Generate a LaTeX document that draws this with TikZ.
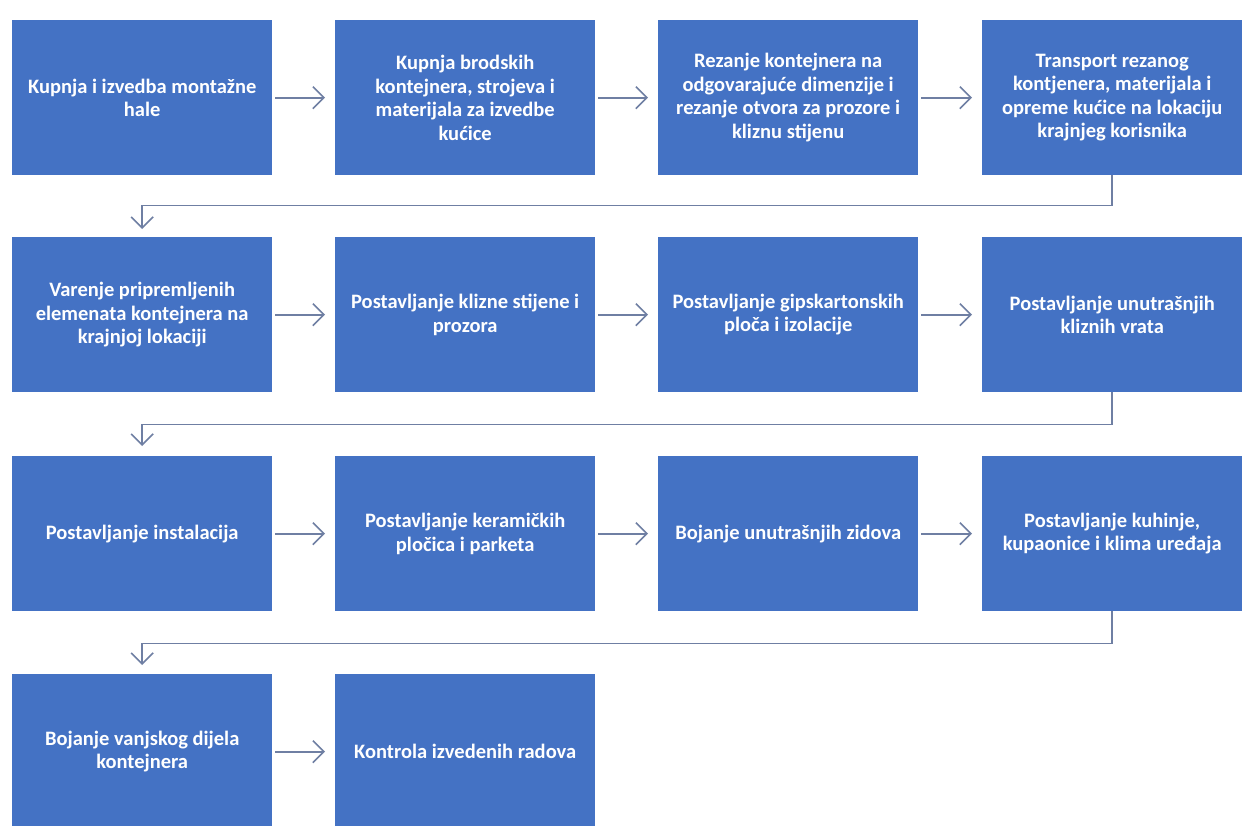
\documentclass[tikz,border=0pt]{standalone}
\usepackage{fontspec}
\setmainfont{Carlito}
\usetikzlibrary{arrows.meta}
\definecolor{boxblue}{HTML}{4472C4}
\definecolor{arrowc}{HTML}{6F7FA3}
\begin{document}
\begin{tikzpicture}[x=1pt,y=-1pt,
  stepbox/.style={rectangle, fill=boxblue, draw=none, anchor=north west,
    minimum width=260pt, minimum height=155pt, inner sep=4pt,
    align=center, text=white, font=\fontsize{20.5}{23.5}\selectfont\bfseries},
  arr/.style={draw=arrowc, line width=1.6pt,
    -{Straight Barb[length=11pt,width=22pt,line width=1.6pt]}}]
\path[use as bounding box, clip] (0,0) rectangle (1242,825);
\fill[white] (0,0) rectangle (1242,825);
% row 1
\node[stepbox] (b1) at (12,20) {Kupnja i izvedba montažne\\hale};
\node[stepbox] (b2) at (335,20) {Kupnja brodskih\\kontejnera, strojeva i\\materijala za izvedbe\\kućice};
\node[stepbox] (b3) at (658,20) {Rezanje kontejnera na\\odgovarajuće dimenzije i\\rezanje otvora za prozore i\\kliznu stijenu};
\node[stepbox] (b4) at (982,20) {Transport rezanog\\kontjenera, materijala i\\opreme kućice na lokaciju\\krajnjeg korisnika};
% row 2
\node[stepbox] (b5) at (12,237) {Varenje pripremljenih\\elemenata kontejnera na\\krajnjoj lokaciji};
\node[stepbox] (b6) at (335,237) {Postavljanje klizne stijene i\\prozora};
\node[stepbox] (b7) at (658,237) {Postavljanje gipskartonskih\\ploča i izolacije};
\node[stepbox] (b8) at (982,237) {Postavljanje unutrašnjih\\kliznih vrata};
% row 3
\node[stepbox] (b9) at (12,456) {Postavljanje instalacija};
\node[stepbox] (b10) at (335,456) {Postavljanje keramičkih\\pločica i parketa};
\node[stepbox] (b11) at (658,456) {Bojanje unutrašnjih zidova};
\node[stepbox] (b12) at (982,456) {Postavljanje kuhinje,\\kupaonice i klima uređaja};
% row 4
\node[stepbox] (b13) at (12,674) {Bojanje vanjskog dijela\\kontejnera};
\node[stepbox] (b14) at (335,674) {Kontrola izvedenih radova};
% horizontal arrows
\foreach \a/\b in {b1/b2,b2/b3,b3/b4,b5/b6,b6/b7,b7/b8,b9/b10,b10/b11,b11/b12,b13/b14}
  \draw[arr] ([xshift=3pt]\a.east) -- ([xshift=-10pt]\b.west);
% bending connectors
\draw[arr] (b4.south) -- ++(0,30) -| ([yshift=8pt]b5.north);
\draw[arr] (b8.south) -- ++(0,32) -| ([yshift=10pt]b9.north);
\draw[arr] (b12.south) -- ++(0,32) -| ([yshift=9pt]b13.north);
\end{tikzpicture}
\end{document}
